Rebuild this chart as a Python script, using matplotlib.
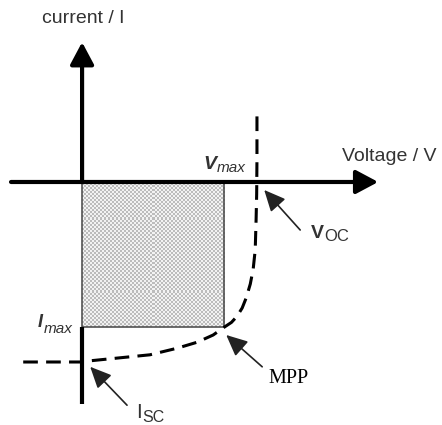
import numpy as np
import matplotlib
matplotlib.use("Agg")
import matplotlib.pyplot as plt

# Operating points of the cell (voltage in V, current in arbitrary units, negative = generated)
v_oc = 0.60
v_mpp = 0.49
i_mpp = -2.42
i_sc = -3.00

# I-V characteristic sampled along the sketched curve
curve_v = [-0.203, 0.0, 0.028, 0.131, 0.234, 0.328, 0.397, 0.452, 0.49,
           0.515, 0.534, 0.552, 0.566, 0.580, 0.590, 0.597, 0.600, 0.602, 0.603, 0.603]
curve_i = [-3.00, -3.00, -2.98, -2.93, -2.88, -2.77, -2.67, -2.55, -2.42,
           -2.34, -2.24, -2.10, -1.93, -1.70, -1.45, -1.13, -0.63, -0.20, 0.40, 1.12]

# Axis extents
x_axis_start, x_axis_end = -0.245, 1.021
y_axis_top = 2.33
y_axis_bottom = -3.70

plt.rcParams["font.family"] = ["Liberation Sans", "DejaVu Sans"]

fig = plt.figure(figsize=(4.42, 4.25), dpi=100)
ax = fig.add_axes([0, 0, 1, 1])
ax.set_xlim(-0.283, 1.241)
ax.set_ylim(-4.05, 3.033)
ax.axis("off")

# Power rectangle under the MPP with a fine checkered fill
nx, ny = 71, 72
checker = (np.add.outer(np.arange(ny), np.arange(nx)) % 2).astype(float)
light = np.array([0.95, 0.95, 0.95])
dark = np.array([0.74, 0.74, 0.74])
rgb = light[None, None, :] * (1 - checker[..., None]) + dark[None, None, :] * checker[..., None]
ax.imshow(rgb, extent=(0, v_mpp, i_mpp, 0), interpolation="nearest",
          aspect="auto", zorder=1)
ax.plot([0, v_mpp, v_mpp, 0, 0], [0, 0, i_mpp, i_mpp, 0],
        color="#444444", lw=1.1, zorder=2)

# Axes with arrowheads
axis_kw = dict(arrowstyle="-|>,head_length=1.35,head_width=0.72", lw=3.0,
               color="black", mutation_scale=10, shrinkA=0, shrinkB=0)
ax.annotate("", xy=(x_axis_end, 0), xytext=(x_axis_start, 0),
            arrowprops=axis_kw, zorder=4)
ax.annotate("", xy=(0, y_axis_top), xytext=(0, 0),
            arrowprops=axis_kw, zorder=4)
ax.plot([0, 0], [i_mpp, y_axis_bottom], color="black", lw=3.0,
        solid_capstyle="butt", zorder=4)

# Dashed I-V curve
ax.plot(curve_v, curve_i, color="black", lw=2.2, linestyle=(0, (4.8, 2.7)),
        dash_capstyle="butt", zorder=3)

# Pointer arrows
ptr_kw = dict(arrowstyle="-|>,head_length=1.3,head_width=0.6", lw=1.2,
              color="#222222", mutation_scale=10, shrinkA=0, shrinkB=0)
ax.annotate("", xy=(0.628, -0.133), xytext=(0.752, -0.80), arrowprops=ptr_kw)
ax.annotate("", xy=(0.497, -2.55), xytext=(0.621, -3.08), arrowprops=ptr_kw)
ax.annotate("", xy=(0.028, -3.08), xytext=(0.155, -3.72), arrowprops=ptr_kw)

txt = "#333333"
ax.text(-0.138, 2.73, "current / I", fontsize=14, color=txt, ha="left", va="center")
ax.text(0.897, 0.417, "Voltage / V", fontsize=14, color=txt, ha="left", va="center")


def sub_label(x, y, main, sub, main_kw, sub_kw, drop):
    t = ax.text(x, y, main, ha="left", va="baseline", color=txt, **main_kw)
    ax.annotate(sub, xy=(1, 0), xycoords=t, xytext=(0.3, -drop),
                textcoords="offset points", ha="left", va="bottom",
                color=txt, **sub_kw)
    return t


sub_label(0.418, 0.217, "V", "max",
          dict(fontsize=14, fontweight="bold", fontstyle="italic"),
          dict(fontsize=11, fontstyle="italic"), 1.5)
sub_label(-0.152, -2.425, "I", "max",
          dict(fontsize=13, fontweight="bold", fontstyle="italic"),
          dict(fontsize=11, fontstyle="italic"), 3.0)
sub_label(0.79, -0.94, "V", "OC",
          dict(fontsize=14, fontweight="bold"),
          dict(fontsize=12), 1.5)
sub_label(0.186, -3.93, "I", "SC",
          dict(fontsize=15),
          dict(fontsize=11.5), 2.0)

ax.text(0.641, -3.35, "MPP", fontsize=14.5, color="black", ha="left",
        va="baseline", family=["Liberation Serif", "DejaVu Serif"])

fig.savefig("out.png", dpi=100)
